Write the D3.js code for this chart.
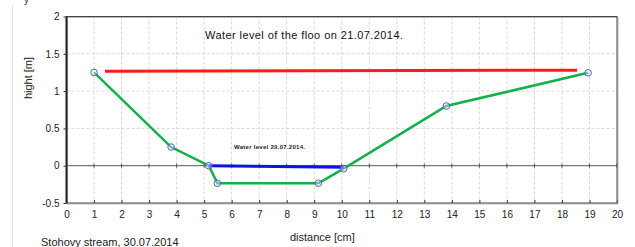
<!DOCTYPE html>
<html><head><meta charset="utf-8">
<script src="https://cdn.jsdelivr.net/npm/d3@7/dist/d3.min.js"></script>
<style>body{margin:0;background:#fff}svg{display:block;font-family:"Liberation Sans",Arial,sans-serif}</style>
</head><body><svg id="c" width="635" height="247"></svg>
<script>
const xTicks = d3.range(0, 21, 1);
const yTicks = [-0.5, 0, 0.5, 1, 1.5, 2];
const yTickLabels = ["-0.5", "0", "0.5", "1", "1.5", "2"];
const profileX = [1.0, 3.8, 5.17, 5.48, 9.15, 10.07, 13.8, 18.95];
const profileY = [1.25, 0.25, 0.0, -0.235, -0.235, -0.04, 0.80, 1.245];
const floodX = [1.4, 18.55];
const floodY = [1.267, 1.28];
const lowX = [5.17, 10.07];
const lowY = [0.0, -0.02];
const titleText = "Water level of the floo on 21.07.2014.";
const lowText = "Water level 29.07.2014.";
const footText = "Stohovy stream, 30.07.2014";

const svg = d3.select("#c");
const L = 66.5, R = 617, T = 16.5, B = 203;
const x = d3.scaleLinear().domain([0, 20]).range([L, R]);
const y = d3.scaleLinear().domain([-0.5, 2]).range([B, T]);

svg.append("line").attr("x1",12.5).attr("x2",12.5).attr("y1",5).attr("y2",247).attr("stroke","#e0e0e0");
svg.append("text").attr("x",24).attr("y",3).attr("font-size",10).attr("fill","#333").text("y");

svg.append("g").selectAll("line").data(xTicks.filter(d=>d>0&&d<20)).join("line")
  .attr("x1",d=>x(d)).attr("x2",d=>x(d)).attr("y1",T).attr("y2",B)
  .attr("stroke","#d8d8d8").attr("stroke-dasharray","3,2");
svg.append("g").selectAll("line").data(yTicks.filter(d=>d>-0.5&&d<2&&d!==0)).join("line")
  .attr("x1",L).attr("x2",R).attr("y1",d=>y(d)).attr("y2",d=>y(d))
  .attr("stroke","#d8d8d8").attr("stroke-dasharray","3,2");

svg.append("line").attr("x1",L).attr("x2",R).attr("y1",y(0)).attr("y2",y(0)).attr("stroke","#555").attr("stroke-width",1);
svg.append("g").selectAll("line").data(xTicks).join("line")
  .attr("x1",d=>x(d)).attr("x2",d=>x(d)).attr("y1",y(0)-2).attr("y2",y(0)+2).attr("stroke","#555");

const xAxis = d3.axisBottom(x).tickValues(xTicks).tickSize(3).tickPadding(5).tickFormat(d3.format("d"));
const gx = svg.append("g").attr("transform",`translate(0,${B})`).call(xAxis);
gx.select(".domain").remove();
gx.selectAll("line").attr("stroke","#333").attr("transform","translate(0,-3)");
gx.selectAll("text").attr("font-size",10).attr("fill","#222").attr("font-family","Liberation Sans, Arial, sans-serif");

const yAxis = d3.axisLeft(y).tickValues(yTicks).tickSize(3).tickPadding(4).tickFormat((d,i)=>yTickLabels[i]);
const gy = svg.append("g").attr("transform",`translate(${L},0)`).call(yAxis);
gy.select(".domain").remove();
gy.selectAll("line").attr("stroke","#333");
gy.selectAll("text").attr("font-size",10).attr("fill","#222").attr("font-family","Liberation Sans, Arial, sans-serif");

svg.append("rect").attr("x",L+1).attr("y",T+1).attr("width",R-L).attr("height",B-T).attr("fill","none").attr("stroke","#bbb");
svg.append("rect").attr("x",L).attr("y",T).attr("width",R-L).attr("height",B-T).attr("fill","none").attr("stroke","#444").attr("stroke-width",1);
svg.append("line").attr("x1",L).attr("x2",L).attr("y1",T).attr("y2",B).attr("stroke","#222").attr("stroke-width",2);

const line = d3.line().x(d=>x(d[0])).y(d=>y(d[1]));
const flood = floodX.map((v,i)=>[v,floodY[i]]);
const low = lowX.map((v,i)=>[v,lowY[i]]);
const prof = profileX.map((v,i)=>[v,profileY[i]]);
svg.append("path").attr("d",line(flood)).attr("fill","none").attr("stroke","#ff1a1a").attr("stroke-width",3);
svg.append("path").attr("d",line(prof)).attr("fill","none").attr("stroke","#11b04a").attr("stroke-width",2.5);
svg.append("path").attr("d",line(low)).attr("fill","none").attr("stroke","#0a14e6").attr("stroke-width",3);
svg.append("g").selectAll("circle").data(prof).join("circle")
  .attr("cx",d=>x(d[0])).attr("cy",d=>y(d[1])).attr("r",3.3)
  .attr("fill","#e8ecf8").attr("fill-opacity",0.4).attr("stroke","#5a5ad0").attr("stroke-width",1);

svg.append("text").attr("x",205).attr("y",39).attr("font-size",11).attr("fill","#111").attr("textLength",198).text(titleText);
svg.append("text").attr("x",234).attr("y",149).attr("font-size",6).attr("font-weight","bold").attr("fill","#222").attr("textLength",71).text(lowText);
svg.append("text").attr("transform","translate(32,78) rotate(-90)").attr("text-anchor","middle").attr("font-size",11).attr("fill","#222").text("hight [m]");
svg.append("text").attr("x",290).attr("y",241).attr("font-size",11).attr("fill","#222").text("distance [cm]");
svg.append("text").attr("x",41).attr("y",246).attr("font-size",11).attr("fill","#222").text(footText);
</script></body></html>
